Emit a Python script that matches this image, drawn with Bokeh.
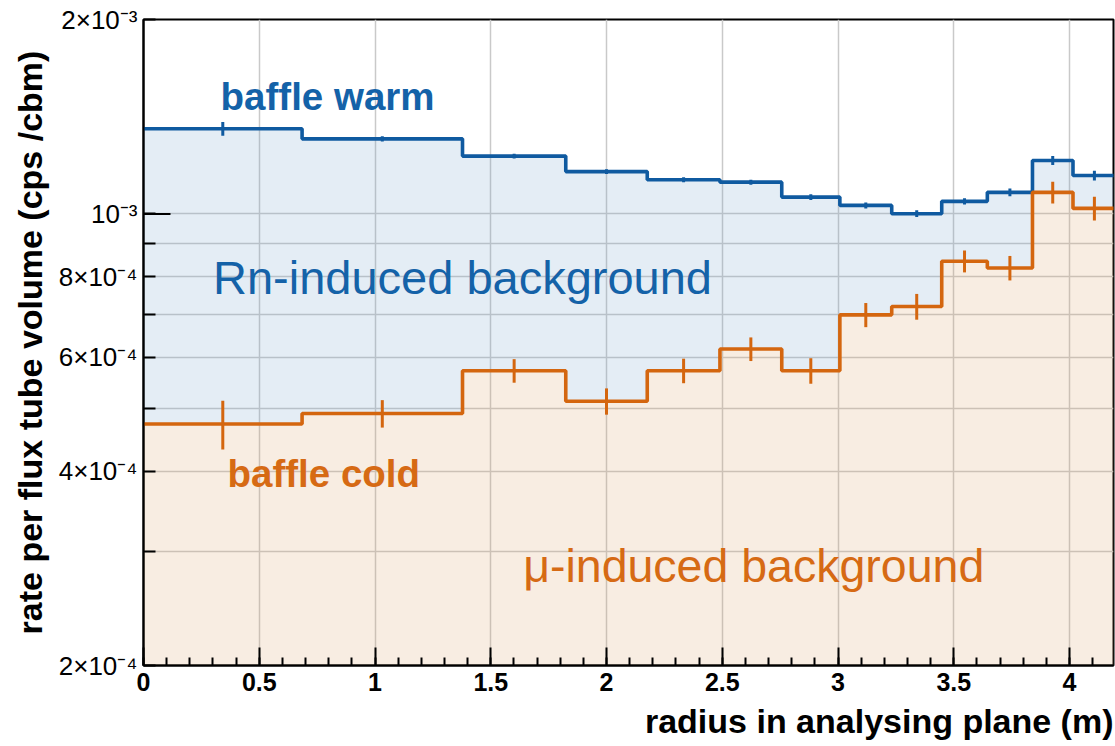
from bokeh.plotting import figure
from bokeh.models import (Range1d, FixedTicker, SingleIntervalTicker,
                          CustomJSTickFormatter, Label, Title)
from bokeh.embed import file_html
from bokeh.resources import INLINE

# ---- data ----
bin_edges = [0.0, 0.685, 1.378, 1.824, 2.176, 2.49, 2.757, 3.008, 3.232,
             3.448, 3.645, 3.84, 4.015, 4.20]
warm_rate = [1.355e-3, 1.307e-3, 1.229e-3, 1.163e-3, 1.130e-3, 1.120e-3,
             1.062e-3, 1.031e-3, 1.001e-3, 1.046e-3, 1.080e-3, 1.210e-3,
             1.147e-3]
warm_err = [0.33e-4, 0.12e-4, 0.10e-4, 0.10e-4, 0.10e-4, 0.10e-4, 0.11e-4,
            0.11e-4, 0.12e-4, 0.12e-4, 0.15e-4, 0.19e-4, 0.20e-4]
cold_rate = [4.73e-4, 4.91e-4, 5.72e-4, 5.13e-4, 5.72e-4, 6.18e-4, 5.72e-4,
             6.98e-4, 7.19e-4, 8.45e-4, 8.25e-4, 1.080e-3, 1.020e-3]
cold_err = [0.41e-4, 0.24e-4, 0.24e-4, 0.24e-4, 0.25e-4, 0.26e-4, 0.26e-4,
            0.30e-4, 0.33e-4, 0.33e-4, 0.36e-4, 0.42e-4, 0.43e-4]
y_major = [2e-4, 4e-4, 6e-4, 8e-4, 1e-3, 2e-3]
y_minor = [3e-4, 5e-4, 7e-4, 9e-4]

X_MAX = 4.19
Y_MIN, Y_MAX = 2e-4, 2e-3

BLUE_LINE = "#0f5aa0"
BLUE_TEXT = "#1462a8"
ORANGE_LINE = "#d4660f"
ORANGE_TEXT = "#d66a14"
FONT = "Liberation Sans"

centers = [(a + b) / 2 for a, b in zip(bin_edges[:-1], bin_edges[1:])]
warm_ext = warm_rate + [warm_rate[-1]]
cold_ext = cold_rate + [cold_rate[-1]]
floor_ext = [Y_MIN / 2] * len(bin_edges)

W, H = 1115, 746
BL, BR, BT, BB = 143, 2, 19, 81

p = figure(width=W, height=H, title=None,
           x_range=Range1d(0, X_MAX), y_range=Range1d(Y_MIN, Y_MAX),
           y_axis_type="log", output_backend="svg", toolbar_location=None,
           min_border_left=BL, min_border_right=BR,
           min_border_top=BT, min_border_bottom=BB)
p.background_fill_color = "white"
p.border_fill_color = "white"
p.outline_line_color = "black"
p.outline_line_width = 2

# fills
p.varea_step(x=bin_edges, y1=floor_ext, y2=cold_ext, step_mode="after",
             fill_color=(220, 165, 110), fill_alpha=0.2)
p.varea_step(x=bin_edges, y1=cold_ext, y2=warm_ext, step_mode="after",
             fill_color=(120, 165, 205), fill_alpha=0.2)

# histograms
p.step(x=bin_edges, y=warm_ext, mode="after", line_color=BLUE_LINE,
       line_width=3.6)
p.step(x=bin_edges, y=cold_ext, mode="after", line_color=ORANGE_LINE,
       line_width=3.6)
p.segment(x0=centers, x1=centers,
          y0=[v - e for v, e in zip(warm_rate, warm_err)],
          y1=[v + e for v, e in zip(warm_rate, warm_err)],
          line_color=BLUE_LINE, line_width=3)
p.segment(x0=centers, x1=centers,
          y0=[v - e for v, e in zip(cold_rate, cold_err)],
          y1=[v + e for v, e in zip(cold_rate, cold_err)],
          line_color=ORANGE_LINE, line_width=3)

# grid
p.xgrid.ticker = SingleIntervalTicker(interval=0.5)
p.ygrid.ticker = FixedTicker(ticks=y_minor + y_major)
for g in (p.xgrid, p.ygrid):
    g.grid_line_color = "#c9c9c9"
    g.grid_line_width = 1.5

# x axis
xa = p.xaxis[0]
xa.ticker = SingleIntervalTicker(interval=0.5, num_minor_ticks=5)
xa.formatter = CustomJSTickFormatter(code="return String(Math.round(tick*10)/10);")
xa.major_tick_in = 18
xa.major_tick_out = 0
xa.minor_tick_in = 8
xa.minor_tick_out = 0
xa.major_tick_line_width = 2
xa.minor_tick_line_width = 2
xa.axis_line_width = 2
xa.major_label_text_font = FONT
xa.major_label_text_font_size = "25px"
xa.major_label_text_font_style = "bold"
xa.major_label_text_color = "black"
xa.major_label_standoff = 7

# y axis
ya = p.yaxis[0]
ya.ticker = FixedTicker(ticks=y_major, minor_ticks=y_minor)
ya.formatter = CustomJSTickFormatter(code="""
const e = Math.floor(Math.log10(tick) + 1e-9);
const m = Math.round(tick / Math.pow(10, e));
const sup = {'0':'\u2070','1':'\u00b9','2':'\u00b2','3':'\u00b3','4':'\u2074',
             '5':'\u2075','6':'\u2076','7':'\u2077','8':'\u2078','9':'\u2079','-':'\u207b'};
const es = String(e).split('').map(c => sup[c]).join('');
return (m == 1 ? '' : m + '\u00d7') + '10' + es;
""")
ya.major_tick_in = 12
ya.major_tick_out = 0
ya.minor_tick_in = 12
ya.minor_tick_out = 0
ya.major_tick_line_width = 2
ya.minor_tick_line_width = 2
ya.axis_line_width = 2
ya.major_label_text_font = FONT
ya.major_label_text_font_size = "26px"
ya.major_label_text_color = "black"
ya.major_label_standoff = 6

# longer decade tick at 1e-3 (length in pixels converted to data units)
inner_w = W - BL - BR
dx = 27 * X_MAX / inner_w
p.segment(x0=[0], x1=[dx], y0=[1e-3], y1=[1e-3], line_color="black",
          line_width=2)

# axis titles
p.add_layout(Title(text="radius in analysing plane (m)", align="right",
                   text_font=FONT, text_font_size="34px",
                   text_font_style="bold", text_color="black",
                   standoff=12), "below")
p.add_layout(Title(text="rate per flux tube volume (cps /cbm)", align="center",
                   text_font=FONT, text_font_size="34px",
                   text_font_style="bold", text_color="black",
                   standoff=14), "left")

# annotations
p.add_layout(Label(x=0.333, y=1.52e-3, text="baffle warm",
                   text_font=FONT, text_font_size="38.5px",
                   text_font_style="bold", text_color=BLUE_TEXT,
                   text_baseline="alphabetic"))
p.add_layout(Label(x=0.300, y=7.98e-4, text="Rn-induced background",
                   text_font=FONT, text_font_size="47px",
                   text_color=BLUE_TEXT, text_baseline="alphabetic"))
p.add_layout(Label(x=0.363, y=3.97e-4, text="baffle cold",
                   text_font=FONT, text_font_size="38.5px",
                   text_font_style="bold", text_color=ORANGE_TEXT,
                   text_baseline="alphabetic"))
p.add_layout(Label(x=1.640, y=2.85e-4, text="\u03bc-induced background",
                   text_font=FONT, text_font_size="46.5px",
                   text_color=ORANGE_TEXT, text_baseline="alphabetic"))

open("out.html", "w").write(file_html(p, INLINE))
